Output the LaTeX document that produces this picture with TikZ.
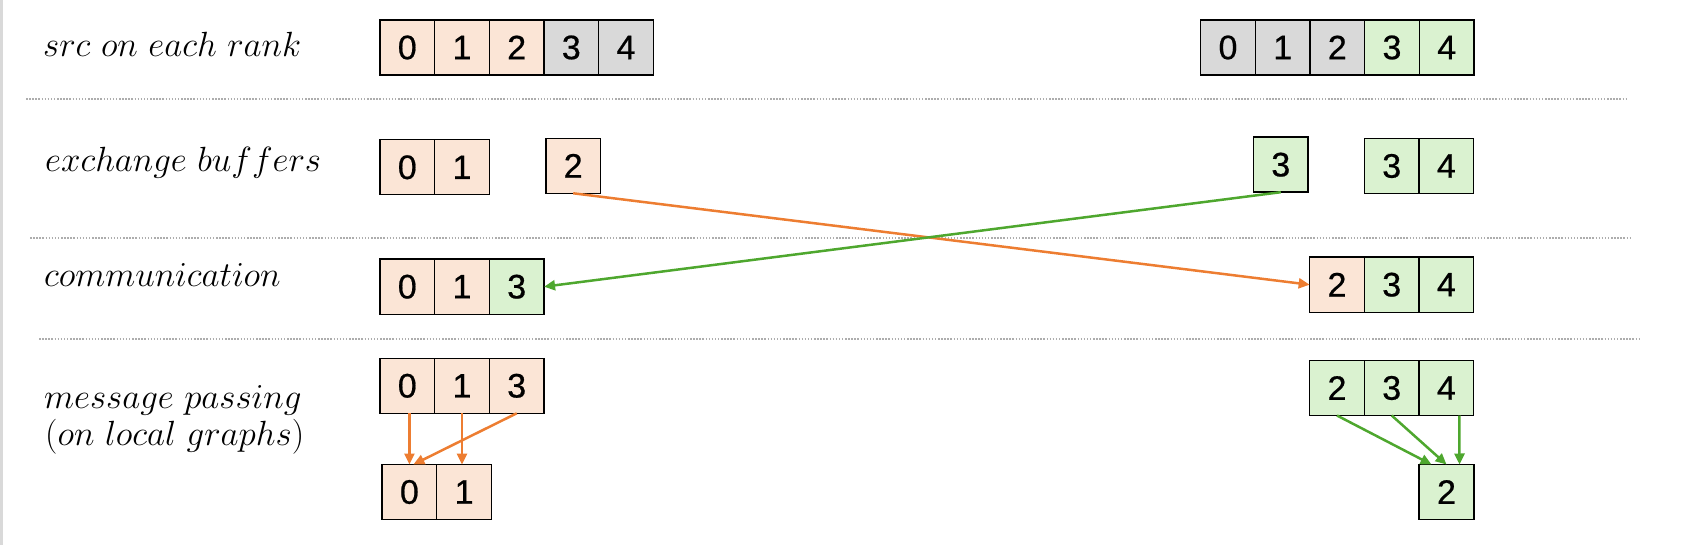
\RequirePackage{fix-cm}
\documentclass[tikz,border=0pt]{standalone}
\usepackage{fontspec}
\newfontfamily\cellfont[FakeBold=0.6]{Liberation Sans}
\usetikzlibrary{arrows.meta}

\definecolor{fillor}{HTML}{FBE5D6}
\definecolor{fillgr}{HTML}{DAF2D0}
\definecolor{fillgy}{HTML}{D9D9D9}
\definecolor{lineor}{HTML}{ED7D31}
\definecolor{linegr}{HTML}{4EA72E}
\definecolor{sepgray}{HTML}{ADADAD}

\tikzset{
  cell/.style={draw=black, line width=1.4pt, minimum width=54.7pt, minimum height=55pt,
    inner sep=0pt, outer sep=0pt, font=\cellfont\fontsize{34}{40}\selectfont},
  orcell/.style={cell, fill=fillor},
  grcell/.style={cell, fill=fillgr},
  gycell/.style={cell, fill=fillgy},
  rowlabel/.style={inner sep=0pt, anchor=base west, font=\fontsize{35}{37}\selectfont},
  sepline/.style={sepgray, line width=1.5pt, dash pattern=on 1.5pt off 1.6pt},
  orflow/.style={lineor, line width=2.5pt, -{Triangle[length=11pt,width=10pt]}},
  grflow/.style={linegr, line width=2.5pt, -{Triangle[length=11pt,width=10pt]}}
}

\begin{document}
\begin{tikzpicture}[x=1pt, y=-1pt]
        \useasboundingbox (0,0) rectangle (1697,545);

        % Draw the frame edge on the left
        \draw[fillgy, line width=2.6pt] (1.3,0) -- (1.3,545);

        % Row labels
        \node[rowlabel] (lsrc) at (43,57) {$src\ on\ each\ rank$};
        \node[rowlabel] (lbuf) at (45,172) {$exchange\ buffers$};
        \node[rowlabel] (lcom) at (44,287) {$communication$};
        \node[rowlabel] (lmp) at (44,408) {$message\ passing$};
        \node[rowlabel] (lmp2) at (45,445) {$(on\ local\ graphs)$};

        % Draw the dotted separators
        \draw[sepline] (26,99) -- (1626,99);
        \draw[sepline] (30,238) -- (1630,238);
        \draw[sepline] (39,339) -- (1639,339);

        % src on the first rank
        \node[orcell] (srcA0) at (407.3,47.5) {0};
        \node[orcell] (srcA1) at (462,47.5) {1};
        \node[orcell] (srcA2) at (516.7,47.5) {2};
        \node[gycell] (srcA3) at (571.3,47.5) {3};
        \node[gycell] (srcA4) at (626,47.5) {4};

        % src on the second rank
        \node[gycell] (srcB0) at (1228,47.5) {0};
        \node[gycell] (srcB1) at (1282.7,47.5) {1};
        \node[gycell] (srcB2) at (1337.3,47.5) {2};
        \node[grcell] (srcB3) at (1392,47.5) {3};
        \node[grcell] (srcB4) at (1446.7,47.5) {4};

        % Exchange buffers (kept and sent)
        \node[orcell] (bufA0) at (407.3,167.3) {0};
        \node[orcell] (bufA1) at (462,167.3) {1};
        \node[orcell] (sendA2) at (573.2,165.8) {2};
        \node[grcell] (sendB3) at (1280.8,164.7) {3};
        \node[grcell] (bufB3) at (1391.7,166) {3};
        \node[grcell] (bufB4) at (1446.4,166) {4};

        % After communication
        \node[orcell] (comA0) at (407.3,286.7) {0};
        \node[orcell] (comA1) at (462,286.7) {1};
        \node[grcell] (comA3) at (516.7,286.7) {3};
        \node[orcell] (comB2) at (1337,284.7) {2};
        \node[grcell] (comB3) at (1391.7,284.7) {3};
        \node[grcell] (comB4) at (1446.4,284.7) {4};

        % Draw the exchange arrows
        \draw[orflow] (sendA2.south) -- (comB2.west);
        \draw[grflow] (sendB3.south) -- (comA3.east);

        % Message passing on the first rank
        \node[orcell] (mpA0) at (407.3,385.8) {0};
        \node[orcell] (mpA1) at (462,385.8) {1};
        \node[orcell] (mpA3) at (516.7,385.8) {3};
        \node[orcell] (outA0) at (409.4,492) {0};
        \node[orcell] (outA1) at (464.1,492) {1};

        \draw[orflow] (outA0.north |- mpA0.south) -- (outA0.north);
        \draw[orflow] (mpA1.south) -- (mpA1.south |- outA1.north);
        \draw[orflow] (mpA3.south) -- ([xshift=4pt]outA0.north);

        % Message passing on the second rank
        \node[grcell] (mpB2) at (1337,388) {2};
        \node[grcell] (mpB3) at (1391.7,388) {3};
        \node[grcell] (mpB4) at (1446.4,388) {4};
        \node[grcell] (outB2) at (1446.5,492) {2};

        \draw[grflow] (mpB2.south) -- ([xshift=-15pt]outB2.north);
        \draw[grflow] (mpB3.south) -- (outB2.north);
        \draw[grflow] ([xshift=13pt]mpB4.south) -- ([xshift=13pt]outB2.north);
    \end{tikzpicture}
\end{document}
